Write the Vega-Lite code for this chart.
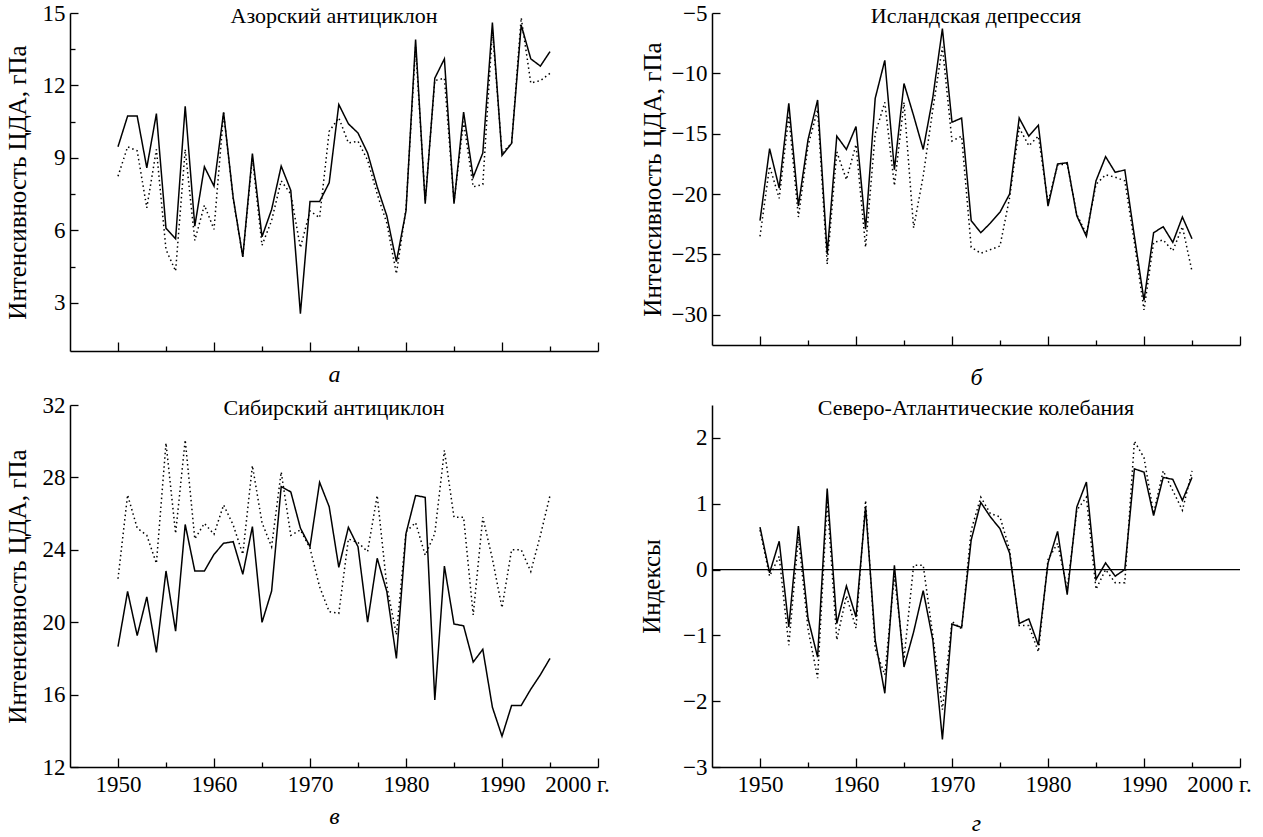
{
"$schema": "https://vega.github.io/schema/vega-lite/v6.json",
"padding": {"left": 5, "top": 2, "right": 5, "bottom": 5},
"background": "white",
"columns": 2,
"bounds": "flush",
"align": "each",
"spacing": {"row": 54, "column": 114},
"datasets": {
"az": [
{"year":1950,"v":9.46,"s":"A"},{"year":1951,"v":10.73,"s":"A"},{"year":1952,"v":10.73,"s":"A"},{"year":1953,"v":8.59,"s":"A"},{"year":1954,"v":10.83,"s":"A"},{"year":1955,"v":6.08,"s":"A"},{"year":1956,"v":5.65,"s":"A"},{"year":1957,"v":11.14,"s":"A"},{"year":1958,"v":6.17,"s":"A"},{"year":1959,"v":8.63,"s":"A"},{"year":1960,"v":7.83,"s":"A"},{"year":1961,"v":10.89,"s":"A"},{"year":1962,"v":7.35,"s":"A"},{"year":1963,"v":4.9,"s":"A"},{"year":1964,"v":9.18,"s":"A"},{"year":1965,"v":5.73,"s":"A"},{"year":1966,"v":6.86,"s":"A"},{"year":1967,"v":8.66,"s":"A"},{"year":1968,"v":7.65,"s":"A"},{"year":1969,"v":2.55,"s":"A"},{"year":1970,"v":7.19,"s":"A"},{"year":1971,"v":7.19,"s":"A"},{"year":1972,"v":7.97,"s":"A"},{"year":1973,"v":11.21,"s":"A"},{"year":1974,"v":10.41,"s":"A"},{"year":1975,"v":10.03,"s":"A"},{"year":1976,"v":9.2,"s":"A"},{"year":1977,"v":7.8,"s":"A"},{"year":1978,"v":6.6,"s":"A"},{"year":1979,"v":4.7,"s":"A"},{"year":1980,"v":6.8,"s":"A"},{"year":1981,"v":13.9,"s":"A"},{"year":1982,"v":7.1,"s":"A"},{"year":1983,"v":12.3,"s":"A"},{"year":1984,"v":13.1,"s":"A"},{"year":1985,"v":7.1,"s":"A"},{"year":1986,"v":10.9,"s":"A"},{"year":1987,"v":8.2,"s":"A"},{"year":1988,"v":9.2,"s":"A"},{"year":1989,"v":14.6,"s":"A"},{"year":1990,"v":9.1,"s":"A"},{"year":1991,"v":9.6,"s":"A"},{"year":1992,"v":14.5,"s":"A"},{"year":1993,"v":13.1,"s":"A"},{"year":1994,"v":12.8,"s":"A"},{"year":1995,"v":13.4,"s":"A"},
{"year":1950,"v":8.24,"s":"B"},{"year":1951,"v":9.46,"s":"B"},{"year":1952,"v":9.29,"s":"B"},{"year":1953,"v":6.93,"s":"B"},{"year":1954,"v":9.35,"s":"B"},{"year":1955,"v":5.2,"s":"B"},{"year":1956,"v":4.31,"s":"B"},{"year":1957,"v":9.35,"s":"B"},{"year":1958,"v":5.58,"s":"B"},{"year":1959,"v":7.04,"s":"B"},{"year":1960,"v":6.04,"s":"B"},{"year":1961,"v":10.86,"s":"B"},{"year":1962,"v":7.3,"s":"B"},{"year":1963,"v":4.9,"s":"B"},{"year":1964,"v":9.0,"s":"B"},{"year":1965,"v":5.38,"s":"B"},{"year":1966,"v":6.4,"s":"B"},{"year":1967,"v":8.05,"s":"B"},{"year":1968,"v":7.5,"s":"B"},{"year":1969,"v":5.28,"s":"B"},{"year":1970,"v":6.8,"s":"B"},{"year":1971,"v":6.52,"s":"B"},{"year":1972,"v":10.1,"s":"B"},{"year":1973,"v":10.66,"s":"B"},{"year":1974,"v":9.62,"s":"B"},{"year":1975,"v":9.69,"s":"B"},{"year":1976,"v":8.9,"s":"B"},{"year":1977,"v":7.5,"s":"B"},{"year":1978,"v":6.3,"s":"B"},{"year":1979,"v":4.2,"s":"B"},{"year":1980,"v":6.9,"s":"B"},{"year":1981,"v":13.6,"s":"B"},{"year":1982,"v":7.2,"s":"B"},{"year":1983,"v":12.2,"s":"B"},{"year":1984,"v":12.3,"s":"B"},{"year":1985,"v":7.2,"s":"B"},{"year":1986,"v":10.5,"s":"B"},{"year":1987,"v":7.8,"s":"B"},{"year":1988,"v":7.9,"s":"B"},{"year":1989,"v":14.3,"s":"B"},{"year":1990,"v":9.2,"s":"B"},{"year":1991,"v":9.6,"s":"B"},{"year":1992,"v":14.8,"s":"B"},{"year":1993,"v":12.1,"s":"B"},{"year":1994,"v":12.2,"s":"B"},{"year":1995,"v":12.5,"s":"B"}
],
"is": [
{"year":1950,"v":-22.2,"s":"A"},{"year":1951,"v":-16.24,"s":"A"},{"year":1952,"v":-19.5,"s":"A"},{"year":1953,"v":-12.48,"s":"A"},{"year":1954,"v":-20.98,"s":"A"},{"year":1955,"v":-15.5,"s":"A"},{"year":1956,"v":-12.2,"s":"A"},{"year":1957,"v":-24.96,"s":"A"},{"year":1958,"v":-15.2,"s":"A"},{"year":1959,"v":-16.3,"s":"A"},{"year":1960,"v":-14.4,"s":"A"},{"year":1961,"v":-22.9,"s":"A"},{"year":1962,"v":-12.07,"s":"A"},{"year":1963,"v":-8.92,"s":"A"},{"year":1964,"v":-17.97,"s":"A"},{"year":1965,"v":-10.84,"s":"A"},{"year":1966,"v":-13.5,"s":"A"},{"year":1967,"v":-16.3,"s":"A"},{"year":1968,"v":-12.0,"s":"A"},{"year":1969,"v":-6.3,"s":"A"},{"year":1970,"v":-14.05,"s":"A"},{"year":1971,"v":-13.7,"s":"A"},{"year":1972,"v":-22.2,"s":"A"},{"year":1973,"v":-23.2,"s":"A"},{"year":1974,"v":-22.4,"s":"A"},{"year":1975,"v":-21.5,"s":"A"},{"year":1976,"v":-20.0,"s":"A"},{"year":1977,"v":-13.7,"s":"A"},{"year":1978,"v":-15.2,"s":"A"},{"year":1979,"v":-14.3,"s":"A"},{"year":1980,"v":-21.0,"s":"A"},{"year":1981,"v":-17.5,"s":"A"},{"year":1982,"v":-17.4,"s":"A"},{"year":1983,"v":-21.8,"s":"A"},{"year":1984,"v":-23.5,"s":"A"},{"year":1985,"v":-18.9,"s":"A"},{"year":1986,"v":-16.9,"s":"A"},{"year":1987,"v":-18.2,"s":"A"},{"year":1988,"v":-18.0,"s":"A"},{"year":1989,"v":-23.5,"s":"A"},{"year":1990,"v":-28.8,"s":"A"},{"year":1991,"v":-23.2,"s":"A"},{"year":1992,"v":-22.7,"s":"A"},{"year":1993,"v":-24.0,"s":"A"},{"year":1994,"v":-21.9,"s":"A"},{"year":1995,"v":-23.7,"s":"A"},
{"year":1950,"v":-23.5,"s":"B"},{"year":1951,"v":-17.7,"s":"B"},{"year":1952,"v":-20.35,"s":"B"},{"year":1953,"v":-13.5,"s":"B"},{"year":1954,"v":-21.9,"s":"B"},{"year":1955,"v":-16.0,"s":"B"},{"year":1956,"v":-13.0,"s":"B"},{"year":1957,"v":-25.8,"s":"B"},{"year":1958,"v":-16.5,"s":"B"},{"year":1959,"v":-18.8,"s":"B"},{"year":1960,"v":-15.9,"s":"B"},{"year":1961,"v":-24.4,"s":"B"},{"year":1962,"v":-15.0,"s":"B"},{"year":1963,"v":-12.4,"s":"B"},{"year":1964,"v":-19.3,"s":"B"},{"year":1965,"v":-12.4,"s":"B"},{"year":1966,"v":-22.8,"s":"B"},{"year":1967,"v":-18.5,"s":"B"},{"year":1968,"v":-13.0,"s":"B"},{"year":1969,"v":-7.8,"s":"B"},{"year":1970,"v":-15.6,"s":"B"},{"year":1971,"v":-15.2,"s":"B"},{"year":1972,"v":-24.4,"s":"B"},{"year":1973,"v":-24.9,"s":"B"},{"year":1974,"v":-24.6,"s":"B"},{"year":1975,"v":-24.3,"s":"B"},{"year":1976,"v":-20.3,"s":"B"},{"year":1977,"v":-14.5,"s":"B"},{"year":1978,"v":-16.0,"s":"B"},{"year":1979,"v":-15.2,"s":"B"},{"year":1980,"v":-20.7,"s":"B"},{"year":1981,"v":-17.6,"s":"B"},{"year":1982,"v":-17.5,"s":"B"},{"year":1983,"v":-21.7,"s":"B"},{"year":1984,"v":-23.3,"s":"B"},{"year":1985,"v":-19.2,"s":"B"},{"year":1986,"v":-18.4,"s":"B"},{"year":1987,"v":-18.6,"s":"B"},{"year":1988,"v":-18.9,"s":"B"},{"year":1989,"v":-24.0,"s":"B"},{"year":1990,"v":-29.6,"s":"B"},{"year":1991,"v":-24.0,"s":"B"},{"year":1992,"v":-23.8,"s":"B"},{"year":1993,"v":-24.7,"s":"B"},{"year":1994,"v":-22.7,"s":"B"},{"year":1995,"v":-26.4,"s":"B"}
],
"sib": [
{"year":1950,"v":18.65,"s":"A"},{"year":1951,"v":21.7,"s":"A"},{"year":1952,"v":19.26,"s":"A"},{"year":1953,"v":21.4,"s":"A"},{"year":1954,"v":18.33,"s":"A"},{"year":1955,"v":22.83,"s":"A"},{"year":1956,"v":19.5,"s":"A"},{"year":1957,"v":25.4,"s":"A"},{"year":1958,"v":22.83,"s":"A"},{"year":1959,"v":22.83,"s":"A"},{"year":1960,"v":23.75,"s":"A"},{"year":1961,"v":24.36,"s":"A"},{"year":1962,"v":24.45,"s":"A"},{"year":1963,"v":22.65,"s":"A"},{"year":1964,"v":25.28,"s":"A"},{"year":1965,"v":19.99,"s":"A"},{"year":1966,"v":21.72,"s":"A"},{"year":1967,"v":27.49,"s":"A"},{"year":1968,"v":27.2,"s":"A"},{"year":1969,"v":25.2,"s":"A"},{"year":1970,"v":24.17,"s":"A"},{"year":1971,"v":27.73,"s":"A"},{"year":1972,"v":26.38,"s":"A"},{"year":1973,"v":23.03,"s":"A"},{"year":1974,"v":25.24,"s":"A"},{"year":1975,"v":24.17,"s":"A"},{"year":1976,"v":20.0,"s":"A"},{"year":1977,"v":23.53,"s":"A"},{"year":1978,"v":21.7,"s":"A"},{"year":1979,"v":18.0,"s":"A"},{"year":1980,"v":24.9,"s":"A"},{"year":1981,"v":27.0,"s":"A"},{"year":1982,"v":26.9,"s":"A"},{"year":1983,"v":15.7,"s":"A"},{"year":1984,"v":23.1,"s":"A"},{"year":1985,"v":19.9,"s":"A"},{"year":1986,"v":19.8,"s":"A"},{"year":1987,"v":17.8,"s":"A"},{"year":1988,"v":18.5,"s":"A"},{"year":1989,"v":15.3,"s":"A"},{"year":1990,"v":13.7,"s":"A"},{"year":1991,"v":15.4,"s":"A"},{"year":1992,"v":15.4,"s":"A"},{"year":1993,"v":16.3,"s":"A"},{"year":1994,"v":17.1,"s":"A"},{"year":1995,"v":18.0,"s":"A"},
{"year":1950,"v":22.4,"s":"B"},{"year":1951,"v":27.03,"s":"B"},{"year":1952,"v":25.2,"s":"B"},{"year":1953,"v":24.8,"s":"B"},{"year":1954,"v":23.25,"s":"B"},{"year":1955,"v":29.9,"s":"B"},{"year":1956,"v":24.9,"s":"B"},{"year":1957,"v":30.07,"s":"B"},{"year":1958,"v":24.6,"s":"B"},{"year":1959,"v":25.46,"s":"B"},{"year":1960,"v":24.86,"s":"B"},{"year":1961,"v":26.48,"s":"B"},{"year":1962,"v":25.37,"s":"B"},{"year":1963,"v":23.75,"s":"B"},{"year":1964,"v":28.65,"s":"B"},{"year":1965,"v":25.5,"s":"B"},{"year":1966,"v":24.17,"s":"B"},{"year":1967,"v":28.3,"s":"B"},{"year":1968,"v":24.8,"s":"B"},{"year":1969,"v":25.1,"s":"B"},{"year":1970,"v":24.08,"s":"B"},{"year":1971,"v":21.96,"s":"B"},{"year":1972,"v":20.58,"s":"B"},{"year":1973,"v":20.49,"s":"B"},{"year":1974,"v":24.6,"s":"B"},{"year":1975,"v":24.4,"s":"B"},{"year":1976,"v":23.9,"s":"B"},{"year":1977,"v":27.0,"s":"B"},{"year":1978,"v":22.0,"s":"B"},{"year":1979,"v":19.3,"s":"B"},{"year":1980,"v":25.0,"s":"B"},{"year":1981,"v":25.5,"s":"B"},{"year":1982,"v":23.7,"s":"B"},{"year":1983,"v":24.9,"s":"B"},{"year":1984,"v":29.5,"s":"B"},{"year":1985,"v":25.8,"s":"B"},{"year":1986,"v":25.8,"s":"B"},{"year":1987,"v":20.4,"s":"B"},{"year":1988,"v":25.8,"s":"B"},{"year":1989,"v":23.5,"s":"B"},{"year":1990,"v":20.8,"s":"B"},{"year":1991,"v":24.0,"s":"B"},{"year":1992,"v":24.0,"s":"B"},{"year":1993,"v":22.8,"s":"B"},{"year":1994,"v":24.8,"s":"B"},{"year":1995,"v":27.0,"s":"B"}
],
"nao": [
{"year":1950,"v":0.645,"s":"A"},{"year":1951,"v":-0.05,"s":"A"},{"year":1952,"v":0.43,"s":"A"},{"year":1953,"v":-0.87,"s":"A"},{"year":1954,"v":0.66,"s":"A"},{"year":1955,"v":-0.74,"s":"A"},{"year":1956,"v":-1.33,"s":"A"},{"year":1957,"v":1.23,"s":"A"},{"year":1958,"v":-0.82,"s":"A"},{"year":1959,"v":-0.25,"s":"A"},{"year":1960,"v":-0.72,"s":"A"},{"year":1961,"v":0.95,"s":"A"},{"year":1962,"v":-1.07,"s":"A"},{"year":1963,"v":-1.88,"s":"A"},{"year":1964,"v":0.065,"s":"A"},{"year":1965,"v":-1.48,"s":"A"},{"year":1966,"v":-0.95,"s":"A"},{"year":1967,"v":-0.32,"s":"A"},{"year":1968,"v":-1.07,"s":"A"},{"year":1969,"v":-2.58,"s":"A"},{"year":1970,"v":-0.83,"s":"A"},{"year":1971,"v":-0.88,"s":"A"},{"year":1972,"v":0.45,"s":"A"},{"year":1973,"v":1.02,"s":"A"},{"year":1974,"v":0.8,"s":"A"},{"year":1975,"v":0.62,"s":"A"},{"year":1976,"v":0.25,"s":"A"},{"year":1977,"v":-0.82,"s":"A"},{"year":1978,"v":-0.75,"s":"A"},{"year":1979,"v":-1.15,"s":"A"},{"year":1980,"v":0.1,"s":"A"},{"year":1981,"v":0.58,"s":"A"},{"year":1982,"v":-0.38,"s":"A"},{"year":1983,"v":0.95,"s":"A"},{"year":1984,"v":1.33,"s":"A"},{"year":1985,"v":-0.15,"s":"A"},{"year":1986,"v":0.1,"s":"A"},{"year":1987,"v":-0.1,"s":"A"},{"year":1988,"v":0.0,"s":"A"},{"year":1989,"v":1.53,"s":"A"},{"year":1990,"v":1.48,"s":"A"},{"year":1991,"v":0.82,"s":"A"},{"year":1992,"v":1.4,"s":"A"},{"year":1993,"v":1.37,"s":"A"},{"year":1994,"v":1.05,"s":"A"},{"year":1995,"v":1.4,"s":"A"},
{"year":1950,"v":0.6,"s":"B"},{"year":1951,"v":-0.1,"s":"B"},{"year":1952,"v":0.2,"s":"B"},{"year":1953,"v":-1.15,"s":"B"},{"year":1954,"v":0.5,"s":"B"},{"year":1955,"v":-0.9,"s":"B"},{"year":1956,"v":-1.65,"s":"B"},{"year":1957,"v":1.05,"s":"B"},{"year":1958,"v":-1.07,"s":"B"},{"year":1959,"v":-0.4,"s":"B"},{"year":1960,"v":-0.89,"s":"B"},{"year":1961,"v":1.05,"s":"B"},{"year":1962,"v":-1.2,"s":"B"},{"year":1963,"v":-1.6,"s":"B"},{"year":1964,"v":-0.1,"s":"B"},{"year":1965,"v":-1.36,"s":"B"},{"year":1966,"v":0.065,"s":"B"},{"year":1967,"v":0.065,"s":"B"},{"year":1968,"v":-1.0,"s":"B"},{"year":1969,"v":-2.13,"s":"B"},{"year":1970,"v":-0.79,"s":"B"},{"year":1971,"v":-0.9,"s":"B"},{"year":1972,"v":0.6,"s":"B"},{"year":1973,"v":1.1,"s":"B"},{"year":1974,"v":0.85,"s":"B"},{"year":1975,"v":0.8,"s":"B"},{"year":1976,"v":0.3,"s":"B"},{"year":1977,"v":-0.85,"s":"B"},{"year":1978,"v":-0.85,"s":"B"},{"year":1979,"v":-1.25,"s":"B"},{"year":1980,"v":0.15,"s":"B"},{"year":1981,"v":0.4,"s":"B"},{"year":1982,"v":-0.3,"s":"B"},{"year":1983,"v":0.9,"s":"B"},{"year":1984,"v":1.1,"s":"B"},{"year":1985,"v":-0.3,"s":"B"},{"year":1986,"v":0.0,"s":"B"},{"year":1987,"v":-0.2,"s":"B"},{"year":1988,"v":-0.2,"s":"B"},{"year":1989,"v":1.95,"s":"B"},{"year":1990,"v":1.7,"s":"B"},{"year":1991,"v":0.85,"s":"B"},{"year":1992,"v":1.5,"s":"B"},{"year":1993,"v":1.2,"s":"B"},{"year":1994,"v":0.9,"s":"B"},{"year":1995,"v":1.5,"s":"B"}
]
},
"concat": [
{
"width": 528, "height": 338,
"layer": [
{"data": {"name": "az"},
"mark": {"type": "line", "color": "black", "strokeWidth": 1.5},
"encoding": {
"x": {"field": "year", "type": "quantitative", "scale": {"domain": [1945, 2000], "nice": false, "zero": false},
 "axis": {"values": [1950,1955,1960,1965,1970,1975,1980,1985,1990,1995,2000], "labels": false, "title": "а", "titleFontStyle": "italic", "titlePadding": 11,
 "tickSize": {"condition": {"test": "datum.value % 10 == 0", "value": -9}, "value": -5}}},
"y": {"field": "v", "type": "quantitative", "scale": {"domain": [1, 15], "nice": false, "zero": false},
 "axis": {"values": [3,4.5,6,7.5,9,10.5,12,13.5,15], "title": "Интенсивность ЦДА, гПа", "titleFontSize": 25, "titlePadding": 12, "labelPadding": 13, "format": "d", "labelOverlap": false,
 "labelExpr": "datum.value % 3 == 0 ? datum.label : ''",
 "tickSize": {"condition": {"test": "datum.value % 3 == 0", "value": -8}, "value": -5}}},
"strokeDash": {"field": "s", "type": "nominal", "scale": {"domain": ["A", "B"], "range": [[1, 0], [1.5, 3]]}, "legend": null}
}},
{"data": {"values": [{"label": "Азорский антициклон"}]},
 "mark": {"type": "text", "baseline": "top", "dy": -7, "fontSize": 22, "color": "black"},
 "encoding": {"x": {"datum": 1972.5, "type": "quantitative"}, "y": {"datum": 15, "type": "quantitative"}, "text": {"field": "label"}}}
]
},
{
"width": 528, "height": 332,
"layer": [
{"data": {"name": "is"},
"mark": {"type": "line", "color": "black", "strokeWidth": 1.5},
"encoding": {
"x": {"field": "year", "type": "quantitative", "scale": {"domain": [1945, 2000], "nice": false, "zero": false},
 "axis": {"values": [1950,1955,1960,1965,1970,1975,1980,1985,1990,1995,2000], "labels": false, "title": "б", "titleFontStyle": "italic", "titlePadding": 20,
 "tickSize": {"condition": {"test": "datum.value % 10 == 0", "value": -9}, "value": -5}}},
"y": {"field": "v", "type": "quantitative", "scale": {"domain": [-32.5, -5], "nice": false, "zero": false},
 "axis": {"values": [-30,-27.5,-25,-22.5,-20,-17.5,-15,-12.5,-10,-7.5,-5], "title": "Интенсивность ЦДА, гПа", "titleFontSize": 25, "titlePadding": 6, "labelPadding": 13, "format": "d", "labelOverlap": false,
 "labelExpr": "datum.value % 5 == 0 ? datum.label : ''",
 "tickSize": {"condition": {"test": "datum.value % 5 == 0", "value": -8}, "value": -5}}},
"strokeDash": {"field": "s", "type": "nominal", "scale": {"domain": ["A", "B"], "range": [[1, 0], [1.5, 3]]}, "legend": null}
}},
{"data": {"values": [{"label": "Исландская депрессия"}]},
 "mark": {"type": "text", "baseline": "top", "dy": -7, "fontSize": 22, "color": "black"},
 "encoding": {"x": {"datum": 1972.5, "type": "quantitative"}, "y": {"datum": -5, "type": "quantitative"}, "text": {"field": "label"}}}
]
},
{
"width": 528, "height": 362,
"layer": [
{"data": {"name": "sib"},
"mark": {"type": "line", "color": "black", "strokeWidth": 1.5},
"encoding": {
"x": {"field": "year", "type": "quantitative", "scale": {"domain": [1945, 2000], "nice": false, "zero": false},
 "axis": {"values": [1950,1955,1960,1965,1970,1975,1980,1985,1990,1995,2000], "title": "в", "titleFontStyle": "italic", "titlePadding": 4, "labelOverlap": false, "labelFlush": false, "labelPadding": 15, "format": "d",
 "labelExpr": "datum.value % 10 == 0 ? (datum.value == 2000 ? '2000 г.' : datum.label) : ''",
 "labelOffset": {"condition": {"test": "datum.value == 2000", "value": -21}, "value": 0},
 "tickSize": {"condition": {"test": "datum.value % 10 == 0", "value": -9}, "value": -5}}},
"y": {"field": "v", "type": "quantitative", "scale": {"domain": [12, 32], "nice": false, "zero": false},
 "axis": {"values": [12,14,16,18,20,22,24,26,28,30,32], "title": "Интенсивность ЦДА, гПа", "titleFontSize": 25, "titlePadding": 12, "labelPadding": 13, "format": "d", "labelOverlap": false,
 "labelExpr": "datum.value % 4 == 0 ? datum.label : ''",
 "tickSize": {"condition": {"test": "datum.value % 4 == 0", "value": -8}, "value": -5}}},
"strokeDash": {"field": "s", "type": "nominal", "scale": {"domain": ["A", "B"], "range": [[1, 0], [1.5, 3]]}, "legend": null}
}},
{"data": {"values": [{"label": "Сибирский антициклон"}]},
 "mark": {"type": "text", "baseline": "top", "dy": -7, "fontSize": 22, "color": "black"},
 "encoding": {"x": {"datum": 1972.5, "type": "quantitative"}, "y": {"datum": 32, "type": "quantitative"}, "text": {"field": "label"}}}
]
},
{
"width": 528, "height": 362,
"layer": [
{"data": {"name": "nao"},
"mark": {"type": "line", "color": "black", "strokeWidth": 1.5},
"encoding": {
"x": {"field": "year", "type": "quantitative", "scale": {"domain": [1945, 2000], "nice": false, "zero": false},
 "axis": {"values": [1950,1955,1960,1965,1970,1975,1980,1985,1990,1995,2000], "title": "г", "titleFontStyle": "italic", "titlePadding": 11, "labelOverlap": false, "labelFlush": false, "labelPadding": 15, "format": "d",
 "labelExpr": "datum.value % 10 == 0 ? (datum.value == 2000 ? '2000 г.' : datum.label) : ''",
 "labelOffset": {"condition": {"test": "datum.value == 2000", "value": -21}, "value": 0},
 "tickSize": {"condition": {"test": "datum.value % 10 == 0", "value": -9}, "value": -5}}},
"y": {"field": "v", "type": "quantitative", "scale": {"domain": [-3, 2.5], "nice": false, "zero": false},
 "axis": {"values": [-3,-2.5,-2,-1.5,-1,-0.5,0,0.5,1,1.5,2,2.5], "title": "Индексы", "titleFontSize": 25, "titlePadding": 18, "labelPadding": 13, "format": "d", "labelOverlap": false,
 "labelExpr": "datum.value % 1 == 0 ? datum.label : ''",
 "tickSize": {"condition": {"test": "datum.value % 1 == 0", "value": -8}, "value": -5}}},
"strokeDash": {"field": "s", "type": "nominal", "scale": {"domain": ["A", "B"], "range": [[1, 0], [1.5, 3]]}, "legend": null}
}},
{"data": {"values": [{"ref": 0}]},
 "mark": {"type": "rule", "color": "black", "strokeWidth": 1.3},
 "encoding": {"y": {"field": "ref", "type": "quantitative"}}},
{"data": {"values": [{"label": "Северо-Атлантические колебания"}]},
 "mark": {"type": "text", "baseline": "top", "dy": -7, "fontSize": 22, "color": "black"},
 "encoding": {"x": {"datum": 1972.5, "type": "quantitative"}, "y": {"datum": 2.5, "type": "quantitative"}, "text": {"field": "label"}}}
]
}
],
"config": {
"view": {"stroke": null},
"font": "Liberation Serif, Times New Roman, serif",
"text": {"font": "Liberation Serif, Times New Roman, serif"},
"axis": {"domainColor": "black", "domainWidth": 1.5, "tickColor": "black", "tickWidth": 1.3, "labelColor": "black", "titleColor": "black", "labelFont": "Liberation Serif, Times New Roman, serif", "titleFont": "Liberation Serif, Times New Roman, serif", "labelFontSize": 23, "titleFontSize": 24, "titleFontWeight": "normal", "grid": false, "labelOverlap": false},
"title": {"font": "Liberation Serif, Times New Roman, serif", "fontSize": 21, "fontWeight": "normal", "color": "black"}
}
}
